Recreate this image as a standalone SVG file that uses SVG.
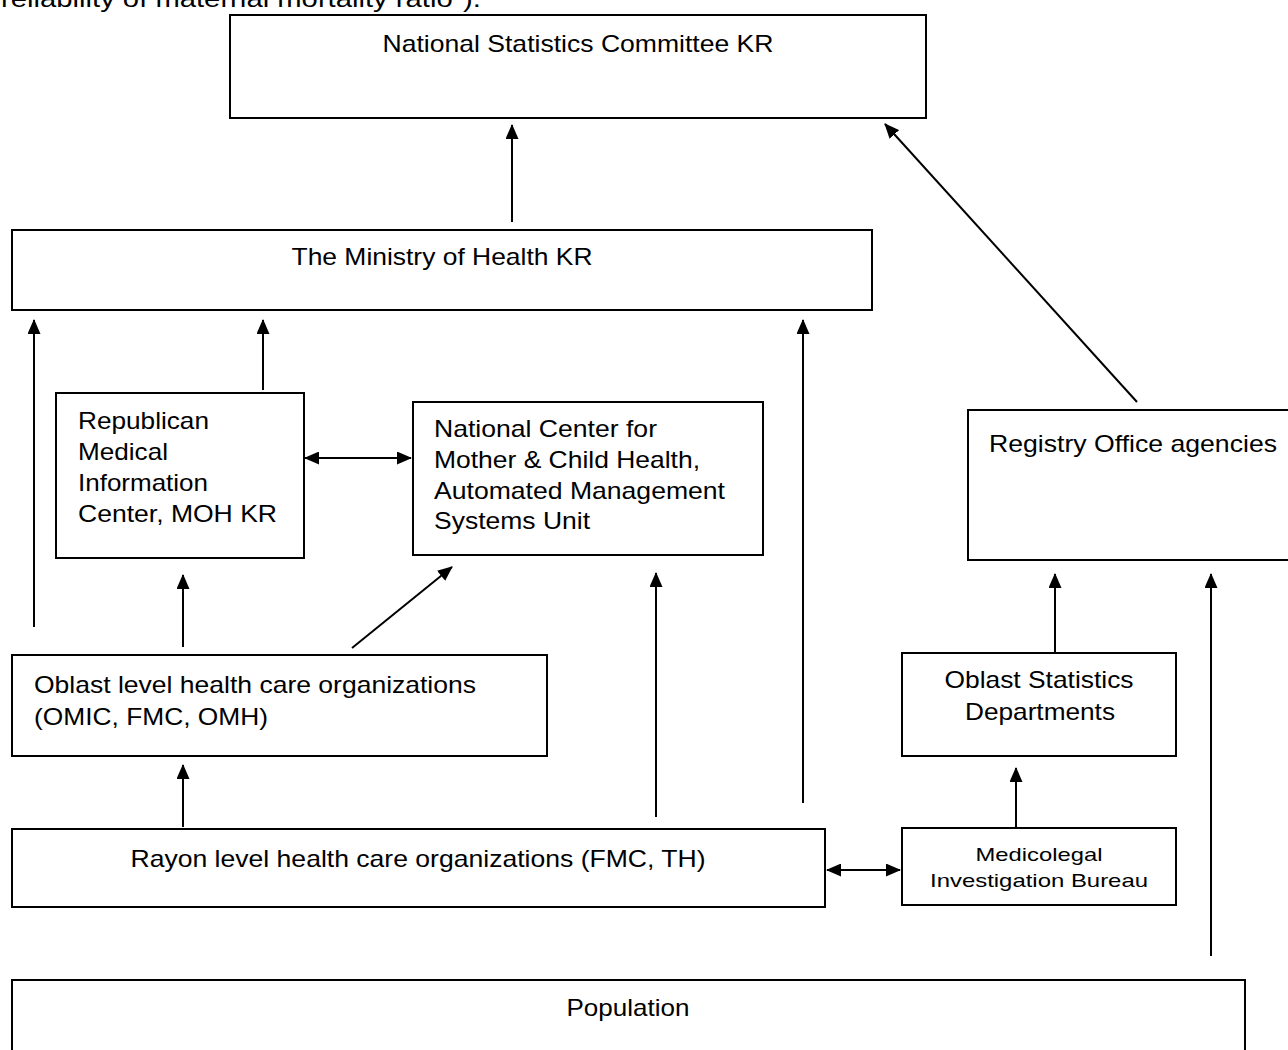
<svg xmlns="http://www.w3.org/2000/svg" width="1288" height="1050" viewBox="0 0 1288 1050">
<style>
.box{fill:#fff;stroke:#000;stroke-width:2}
.t{font-family:"Liberation Sans",Arial,sans-serif;font-size:24px;fill:#000}
.s{font-family:"Liberation Sans",Arial,sans-serif;font-size:19px;fill:#000}
.c{text-anchor:middle}
.ln{stroke:#000;stroke-width:2;fill:none}
</style>
<defs>
<marker id="ah" markerUnits="userSpaceOnUse" markerWidth="15" markerHeight="13" refX="14" refY="6.5" orient="auto-start-reverse">
<path d="M0,0 L15,6.5 L0,13 Z" fill="#000"/>
</marker>
</defs>
<rect width="1288" height="1050" fill="#fff"/>
<text class="t" x="1" y="7" textLength="480" lengthAdjust="spacingAndGlyphs">reliability of maternal mortality ratio").</text>

<g id="nsc"><rect class="box" x="230" y="15" width="696" height="103"/>
<text class="t c" x="578" y="52" textLength="391" lengthAdjust="spacingAndGlyphs">National Statistics Committee KR</text></g>

<g id="moh"><rect class="box" x="12" y="230" width="860" height="80"/>
<text class="t c" x="442" y="265" textLength="301" lengthAdjust="spacingAndGlyphs">The Ministry of Health KR</text></g>

<g id="rmic"><rect class="box" x="56" y="393" width="248" height="165"/>
<text class="t" x="78" y="429" textLength="131" lengthAdjust="spacingAndGlyphs">Republican</text>
<text class="t" x="78" y="460" textLength="90" lengthAdjust="spacingAndGlyphs">Medical</text>
<text class="t" x="78" y="491" textLength="130" lengthAdjust="spacingAndGlyphs">Information</text>
<text class="t" x="78" y="522" textLength="199" lengthAdjust="spacingAndGlyphs">Center, MOH KR</text></g>

<g id="ncmch"><rect class="box" x="413" y="402" width="350" height="153"/>
<text class="t" x="434" y="437" textLength="223" lengthAdjust="spacingAndGlyphs">National Center for</text>
<text class="t" x="434" y="468" textLength="266" lengthAdjust="spacingAndGlyphs">Mother &amp; Child Health,</text>
<text class="t" x="434" y="499" textLength="291" lengthAdjust="spacingAndGlyphs">Automated Management</text>
<text class="t" x="434" y="529" textLength="156" lengthAdjust="spacingAndGlyphs">Systems Unit</text></g>

<g id="registry"><rect class="box" x="968" y="410" width="322" height="150"/>
<text class="t" x="989" y="452" textLength="288" lengthAdjust="spacingAndGlyphs">Registry Office agencies</text></g>

<g id="oblast"><rect class="box" x="12" y="655" width="535" height="101"/>
<text class="t" x="34" y="693" textLength="442" lengthAdjust="spacingAndGlyphs">Oblast level health care organizations</text>
<text class="t" x="34" y="725" textLength="234" lengthAdjust="spacingAndGlyphs">(OMIC, FMC, OMH)</text></g>

<g id="oblstat"><rect class="box" x="902" y="653" width="274" height="103"/>
<text class="t c" x="1039" y="688" textLength="189" lengthAdjust="spacingAndGlyphs">Oblast Statistics</text>
<text class="t c" x="1040" y="720" textLength="150" lengthAdjust="spacingAndGlyphs">Departments</text></g>

<g id="rayon"><rect class="box" x="12" y="829" width="813" height="78"/>
<text class="t c" x="418" y="867" textLength="575" lengthAdjust="spacingAndGlyphs">Rayon level health care organizations (FMC, TH)</text></g>

<g id="medico"><rect class="box" x="902" y="828" width="274" height="77"/>
<text class="s c" x="1039" y="861" textLength="127" lengthAdjust="spacingAndGlyphs">Medicolegal</text>
<text class="s c" x="1039" y="887" textLength="218" lengthAdjust="spacingAndGlyphs">Investigation Bureau</text></g>

<g id="population"><rect class="box" x="12" y="980" width="1233" height="90"/>
<text class="t c" x="628" y="1016" textLength="123" lengthAdjust="spacingAndGlyphs">Population</text></g>

<g id="connectors">
<line class="ln" x1="512" y1="222" x2="512" y2="125" marker-end="url(#ah)"/>
<line class="ln" x1="1137" y1="402" x2="885" y2="124" marker-end="url(#ah)"/>
<line class="ln" x1="34" y1="627" x2="34" y2="320" marker-end="url(#ah)"/>
<line class="ln" x1="263" y1="390" x2="263" y2="320" marker-end="url(#ah)"/>
<line class="ln" x1="803" y1="803" x2="803" y2="320" marker-end="url(#ah)"/>
<line class="ln" x1="305" y1="458" x2="411" y2="458" marker-start="url(#ah)" marker-end="url(#ah)"/>
<line class="ln" x1="183" y1="647" x2="183" y2="575" marker-end="url(#ah)"/>
<line class="ln" x1="352" y1="648" x2="452" y2="567" marker-end="url(#ah)"/>
<line class="ln" x1="656" y1="817" x2="656" y2="573" marker-end="url(#ah)"/>
<line class="ln" x1="1055" y1="653" x2="1055" y2="574" marker-end="url(#ah)"/>
<line class="ln" x1="1211" y1="956" x2="1211" y2="574" marker-end="url(#ah)"/>
<line class="ln" x1="183" y1="827" x2="183" y2="765" marker-end="url(#ah)"/>
<line class="ln" x1="1016" y1="827" x2="1016" y2="768" marker-end="url(#ah)"/>
<line class="ln" x1="827" y1="870" x2="900" y2="870" marker-start="url(#ah)" marker-end="url(#ah)"/>
</g>
</svg>
